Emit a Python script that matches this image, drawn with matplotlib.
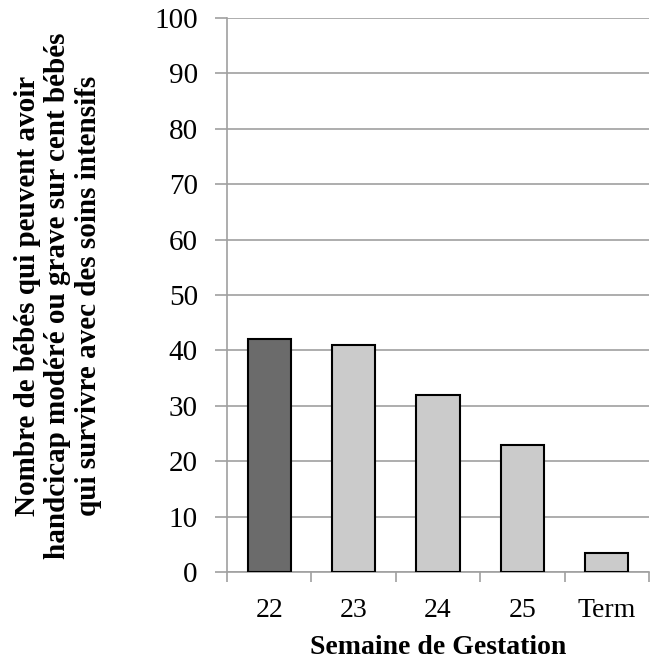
import numpy as np
import matplotlib.pyplot as plt

categories = ['22', '23', '24', '25', 'Term']
values = [42, 41, 32, 23, 3.5]
bar_colors = ['#6b6b6b', '#cbcbcb', '#cbcbcb', '#cbcbcb', '#cbcbcb']

plt.rcParams['font.family'] = ['Liberation Serif', 'DejaVu Serif']

fig = plt.figure(figsize=(6.5, 6.62), dpi=100)
ax = fig.add_axes([227 / 650, 1 - 572 / 662, 422 / 650, 554 / 662])

x = np.arange(len(categories))
ax.bar(x, values, width=0.51, color=bar_colors, edgecolor='black', linewidth=1.5, zorder=3)

ax.set_xlim(-0.5, len(categories) - 0.5)
ax.set_ylim(0, 100)
ax.set_yticks(np.arange(0, 101, 10))
ax.yaxis.grid(True, color='#a0a0a0', linewidth=1.2, zorder=0)

ax.set_xticks(x)
ax.set_xticklabels(categories)
ax.set_xticks(np.arange(-0.5, len(categories)), minor=True)
ax.tick_params(axis='x', which='major', length=0, pad=19, labelsize=20)
ax.tick_params(axis='x', which='minor', length=7, width=1.2, color='#a0a0a0', direction='out')
ax.tick_params(axis='y', length=9, width=1.2, color='#a0a0a0', labelsize=21, pad=12)

for s in ['top', 'right']:
    ax.spines[s].set_visible(False)
for s in ['left', 'bottom']:
    ax.spines[s].set_color('#a0a0a0')
    ax.spines[s].set_linewidth(1.2)

ax.set_xlabel('Semaine de Gestation', fontsize=20, fontweight='bold')
ax.xaxis.set_label_coords(0.5, -0.113)

fig.text(58 / 650, 0.553,
         "Nombre de bébés qui peuvent avoir\nhandcicap modéré ou grave sur cent bébés\nqui survivre avec des soins intensifs",
         rotation=90, ha='center', va='center', multialignment='center',
         fontsize=21, fontweight='bold', linespacing=1.15)

fig.savefig('out.png', dpi=100)
